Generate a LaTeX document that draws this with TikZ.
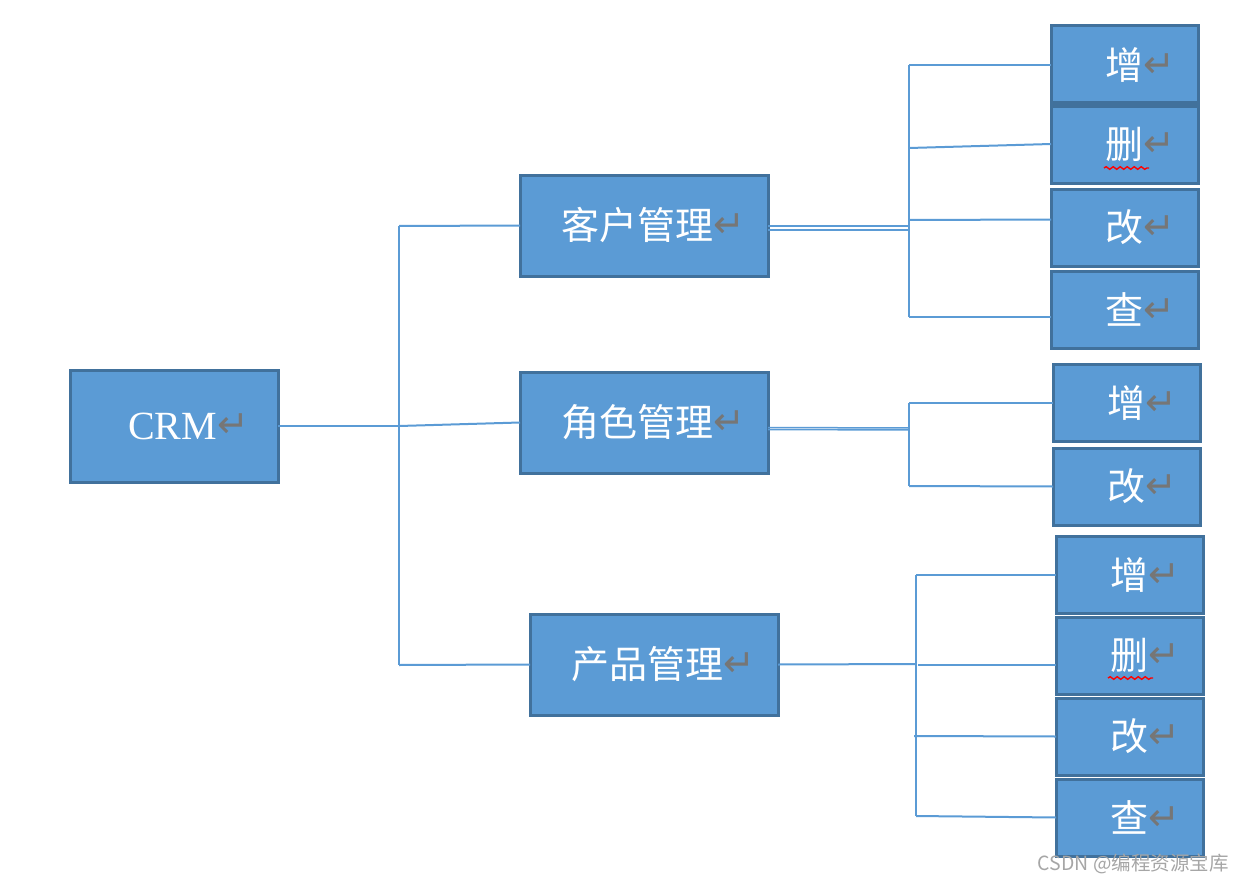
\documentclass[tikz,border=0pt]{standalone}
\usepackage{fontspec}
\setmainfont{Liberation Serif}
\newfontfamily\cjk{Noto Sans CJK SC}
\newfontfamily\symfont{DejaVu Sans}
\usetikzlibrary{decorations.pathmorphing}
\definecolor{boxfill}{HTML}{5B9BD5}
\definecolor{boxline}{HTML}{41719C}
\definecolor{retc}{HTML}{767676}
\definecolor{wm}{HTML}{A6A6A6}
\newcommand{\rtn}{{\symfont\fontsize{38}{38}\selectfont\color{retc}\raisebox{2pt}{↵}}}
\tikzset{
  box/.style={draw=boxline, line width=3pt, fill=boxfill, text=white, inner sep=0pt, outer sep=0pt, anchor=north west,
    font=\cjk\fontsize{38}{38}\selectfont},
  midbox/.style={box, minimum width=248, minimum height=101},
  leaf/.style={box, minimum width=147, minimum height=77},
  conn/.style={draw=boxfill, line width=2pt},
  squig/.style={draw=red, line width=1.4pt, decorate, decoration={snake, amplitude=1.3pt, segment length=7pt}}
}
\begin{document}
\begin{tikzpicture}[x=1pt,y=-1pt]
\useasboundingbox (0,0) rectangle (1243,883);
% main nodes
\node[box, minimum width=208, minimum height=112] (crm) at (70,370) {\hspace{29pt}{\rmfamily\fontsize{40}{40}\selectfont CRM}\rtn};
\node[midbox] (kh) at (520,175) {\hspace{19pt}客户管理\rtn};
\node[midbox] (js) at (520,372) {\hspace{19pt}角色管理\rtn};
\node[midbox] (cp) at (530,614) {\hspace{19pt}产品管理\rtn};
% group 1
\node[leaf] (a1) at (1051,26) {\hspace{31pt}增\rtn};
\node[leaf] (a2) at (1051,106) {\hspace{31pt}删\rtn};
\node[leaf] (a3) at (1051,189) {\hspace{31pt}改\rtn};
\node[leaf] (a4) at (1051,271) {\hspace{31pt}查\rtn};
% group 2
\node[leaf] (b1) at (1053,364) {\hspace{31pt}增\rtn};
\node[leaf] (b2) at (1053,448) {\hspace{31pt}改\rtn};
% group 3
\node[leaf] (c1) at (1056,536) {\hspace{31pt}增\rtn};
\node[leaf] (c2) at (1056,617) {\hspace{31pt}删\rtn};
\node[leaf] (c3) at (1056,698) {\hspace{31pt}改\rtn};
\node[leaf] (c4) at (1056,779) {\hspace{31pt}查\rtn};
% squiggles under 删
\draw[squig] (1104,168) -- (1149,168);
\draw[squig] (1108,678) -- (1153,678);
% trunk coordinates
\coordinate (t0) at (399,426);
\coordinate (t0top) at (399,226);
\coordinate (t0bot) at (399,665);
\coordinate (g1) at (909,228);
\coordinate (g2) at (909,429);
\coordinate (g3) at (916,664);
% CRM connectors
\draw[conn] (crm.east) -- (t0);
\draw[conn] (t0top) -- (t0bot);
\draw[conn] (t0top) -- (kh.west);
\draw[conn] (t0) -- (js.west);
\draw[conn] (t0bot) -- (cp.west);
% group 1 connectors
\draw[conn, line width=1.5pt] ([yshift=-0.5pt]kh.east) -- ([yshift=2pt]g1);
\draw[conn, line width=1.5pt] ([yshift=-4.5pt]kh.east) -- ([yshift=-2pt]g1);
\draw[conn] (909,65) -- (909,317);
\draw[conn] (909,65) -- ([yshift=-0.5pt]a1.west);
\draw[conn] (909,148) -- ([yshift=0.5pt]a2.west);
\draw[conn] (909,220) -- ([yshift=8pt]a3.west);
\draw[conn] (909,317) -- ([yshift=-7.5pt]a4.west);
% group 2 connectors
\draw[conn, line width=1.5pt] ([yshift=-5pt]js.east) -- ([yshift=1pt]g2);
\draw[conn, line width=1.5pt] ([yshift=-7pt]js.east) -- ([yshift=-1pt]g2);
\draw[conn] (909,403) -- (909,486);
\draw[conn] (909,403) -- ([yshift=-0.5pt]b1.west);
\draw[conn] (909,486) -- (b2.west);
% group 3 connectors
\draw[conn] (cp.east) -- (g3);
\draw[conn] (916,575) -- (916,816);
\draw[conn] (916,575) -- ([yshift=-0.5pt]c1.west);
\draw[conn] (918,665) -- ([yshift=-9.5pt]c2.west);
\draw[conn] (914,736) -- (c3.west);
\draw[conn] (916,816) -- (c4.west);
% watermark
\node[font=\cjk\fontsize{19.5}{19.5}\selectfont, text=wm, anchor=east, inner sep=0pt] (wmk) at (1229,864) {CSDN @编程资源宝库};
\end{tikzpicture}
\end{document}
